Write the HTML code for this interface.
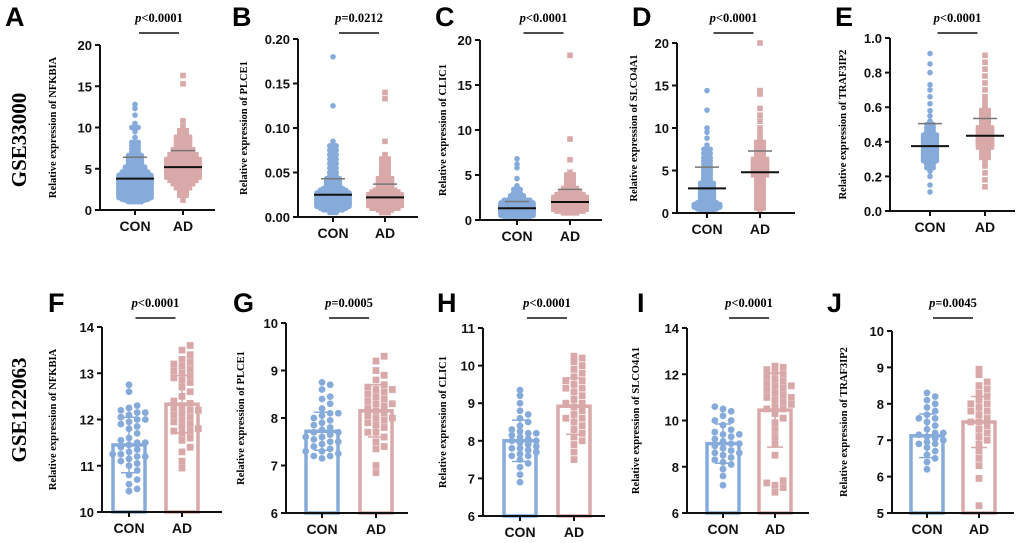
<!DOCTYPE html>
<html><head><meta charset="utf-8"><style>
body{margin:0;background:#fff}
svg{display:block;font-family:"Liberation Sans",Arial,sans-serif}
.tk{font-size:13px;font-weight:bold;fill:#111}
.gl{font-size:14px;font-weight:bold;fill:#111}
.pv{font-family:"Liberation Serif",serif;font-size:12.5px;font-weight:bold}
.yt{font-family:"Liberation Serif",serif;font-size:10.5px;font-weight:bold}
.lt{font-size:27px;font-weight:bold}
.gse{font-family:"Liberation Serif",serif;font-size:21px;font-weight:bold}
</style></head><body>
<svg id="fig" width="1020" height="543" viewBox="0 0 1020 543" xmlns="http://www.w3.org/2000/svg">
<text class="gse" transform="translate(26,140) rotate(-90)" text-anchor="middle">GSE33000</text>
<text class="gse" transform="translate(26,410) rotate(-90)" text-anchor="middle">GSE122063</text>
</svg>
<script>
const groups = ["CON","AD"];
const aCon=[1,1.2,1.3,1.5,1.6,1.8,1.9,2,2.1,2.2,2.3,2.4,2.5,2.6,2.7,2.8,2.9,3,3.1,3.2,3.3,3.4,3.5,3.6,3.7,3.8,3.9,4,4.2,4.4,4.6,4.8,5,5.2,5.5,5.8,6,6.3,6.6,7,7.4,7.8,8.2,8.8,9.5,10,10.5,11.5,12.3,12.8];
const aAd=[1.2,1.8,2.3,2.7,3,3.2,3.4,3.6,3.8,4,4.1,4.2,4.4,4.5,4.6,4.8,4.9,5,5.1,5.2,5.3,5.4,5.5,5.6,5.7,5.8,6,6.1,6.3,6.5,6.7,6.9,7.1,7.3,7.6,7.9,8.2,8.5,8.8,9.2,9.6,10.1,10.8,15.3,16.3];
const bCon=[0.005,0.008,0.01,0.011,0.012,0.013,0.014,0.015,0.016,0.017,0.018,0.019,0.02,0.021,0.022,0.023,0.024,0.025,0.026,0.027,0.028,0.03,0.032,0.034,0.036,0.038,0.04,0.043,0.046,0.05,0.055,0.06,0.065,0.07,0.075,0.08,0.085,0.125,0.18];
const bAd=[0.005,0.008,0.01,0.012,0.013,0.014,0.015,0.016,0.017,0.018,0.019,0.02,0.021,0.022,0.023,0.024,0.025,0.026,0.028,0.03,0.032,0.034,0.036,0.038,0.04,0.043,0.046,0.05,0.055,0.06,0.065,0.07,0.085,0.133,0.14];
const cCon=[0.4,0.5,0.6,0.7,0.8,0.85,0.9,0.95,1,1,1.05,1.1,1.1,1.15,1.2,1.25,1.3,1.35,1.4,1.5,1.6,1.7,1.8,1.9,2,2.2,2.4,2.7,3,3.4,3.8,4.6,5.8,6.2,6.8];
const cAd=[0.8,1,1.1,1.2,1.3,1.4,1.5,1.6,1.7,1.8,1.9,2,2,2.1,2.2,2.3,2.4,2.5,2.6,2.8,3,3.2,3.5,3.8,4.2,4.6,5,5.3,6.7,9,18.3];
const dCon=[0.3,0.5,0.6,0.7,0.8,1,1.2,1.4,1.6,1.8,2,2.2,2.4,2.6,2.8,3,3.2,3.5,3.8,4.1,4.4,4.7,5,5.3,5.7,6.1,6.5,7,7.5,8,8.8,9.5,10,12.1,14.4];
const dAd=[0.3,0.6,1,1.4,1.8,2.2,2.6,3,3.3,3.6,3.9,4.2,4.5,4.8,5,5.2,5.4,5.6,5.8,6,6.3,6.6,7,7.4,7.8,8.3,8.8,9.4,10,10.8,11.5,12.3,14,14.4,20];
const eCon=[0.11,0.15,0.2,0.23,0.25,0.27,0.29,0.3,0.31,0.32,0.33,0.34,0.35,0.36,0.37,0.38,0.39,0.4,0.41,0.42,0.43,0.44,0.46,0.48,0.5,0.52,0.55,0.58,0.62,0.66,0.7,0.73,0.8,0.85,0.91];
const eAd=[0.14,0.18,0.22,0.26,0.29,0.31,0.33,0.35,0.37,0.38,0.39,0.4,0.41,0.42,0.43,0.44,0.45,0.46,0.47,0.48,0.5,0.52,0.54,0.56,0.58,0.6,0.63,0.66,0.7,0.74,0.78,0.82,0.86,0.9];
const fCon=[10.45,10.5,10.6,10.7,10.8,10.9,11,11.05,11.1,11.15,11.2,11.2,11.25,11.3,11.35,11.4,11.45,11.5,11.55,11.6,11.7,11.8,11.85,11.9,11.95,12,12.05,12.1,12.15,12.2,12.25,12.3,12.6,12.75,11.25,11.5,12.15,12.0];
const fAd=[10.95,11.1,11.3,11.4,11.55,11.6,11.7,11.75,11.8,11.85,11.9,11.95,12,12.05,12.1,12.15,12.2,12.25,12.3,12.35,12.4,12.5,12.6,12.7,12.8,12.85,12.9,12.95,13,13.05,13.1,13.15,13.2,13.25,13.3,13.4,13.5,13.6,11.75,12.2];
const gCon=[7.15,7.2,7.25,7.3,7.35,7.4,7.45,7.5,7.55,7.6,7.6,7.65,7.7,7.75,7.8,7.85,7.9,7.95,8,8.05,8.1,8.2,8.3,8.4,8.45,8.6,8.7,8.75,7.5,7.7,7.2,8.1,7.3];
const gAd=[6.85,7.0,7.35,7.4,7.5,7.6,7.7,7.8,7.85,7.9,7.95,8,8.05,8.1,8.15,8.2,8.25,8.3,8.35,8.4,8.45,8.5,8.55,8.6,8.65,8.7,8.8,8.9,9,9.2,9.3,8.0,8.3,8.6,7.7];
const hCon=[6.9,7.1,7.3,7.4,7.5,7.6,7.65,7.7,7.75,7.8,7.85,7.9,7.95,8,8.05,8.1,8.15,8.2,8.25,8.3,8.4,8.5,8.6,8.7,8.8,9,9.2,9.35,7.8,8.0,8.2,7.6];
const hAd=[7.5,7.7,7.9,8,8.1,8.2,8.3,8.4,8.5,8.6,8.7,8.8,8.9,9,9.1,9.2,9.3,9.4,9.5,9.6,9.7,9.8,9.9,10,10.1,10.2,10.25,8.6,9.0,9.4,9.6];
const iCon=[7.2,7.6,7.9,8.1,8.2,8.3,8.4,8.5,8.6,8.7,8.8,8.9,9,9.1,9.2,9.3,9.4,9.5,9.6,9.8,10,10.2,10.4,10.5,10.6,8.6,9.0,9.4,10.0];
const iAd=[6.9,7.1,7.2,7.3,7.4,8.5,9,9.3,9.6,9.9,10.1,10.3,10.5,10.6,10.7,10.8,10.9,11,11.1,11.2,11.3,11.4,11.5,11.6,11.7,11.8,11.9,12,12.1,12.2,12.3,12.35,10.5,11,11.5];
const jCon=[6.2,6.4,6.5,6.6,6.7,6.8,6.9,6.95,7,7.05,7.1,7.15,7.2,7.3,7.4,7.5,7.6,7.7,7.8,7.9,8,8.1,8.2,8.3,6.9,7.2,7.6];
const jAd=[5.2,5.95,6.3,6.5,6.7,6.9,7,7.1,7.2,7.3,7.4,7.5,7.6,7.7,7.8,7.9,8,8.1,8.2,8.3,8.4,8.5,8.6,8.8,8.95,7.5,7.8,8.0];
const means=[[3.8,5.2],[0.025,0.022],[1.3,2.0],[2.9,4.8],[0.375,0.435],[11.45,12.33],[7.72,8.15],[8.0,8.92],[9.0,10.45],[7.12,7.5]];
const sds=[[2.6,2.0],[0.018,0.015],[0.75,1.4],[2.5,2.5],[0.13,0.1],[0.6,0.62],[0.4,0.55],[0.55,0.75],[0.85,1.6],[0.6,0.7]];
const pTexts=["<0.0001","=0.0212","<0.0001","<0.0001","<0.0001","<0.0001","=0.0005","<0.0001","<0.0001","=0.0045"];
const genes=["NFKBIA","PLCE1","CLIC1","SLCO4A1","TRAF3IP2","NFKBIA","PLCE1","CLIC1","SLCO4A1","TRAF3IP2"];
const letters=["A","B","C","D","E","F","G","H","I","J"];
const series=[[aCon,aAd],[bCon,bAd],[cCon,cAd],[dCon,dAd],[eCon,eAd],[fCon,fAd],[gCon,gAd],[hCon,hAd],[iCon,iAd],[jCon,jAd]];
const yMin=[0,0,0,0,0,10,6,6,6,5];
const yMax=[20,0.2,20,20,1,14,10,11,14,10];
const yStep=[5,0.05,5,5,0.2,1,1,1,2,1];
const yDec=[0,2,0,0,1,0,0,0,0,0];

const L=[
 {ax:100,top:45,bot:210,c:[35,83],w:115,lx:5,yt:52,ty:"t"},
 {ax:298,top:39,bot:217,c:[35,87],w:120,lx:232,yt:243,ty:"t"},
 {ax:480,top:40,bot:220,c:[37,90],w:122,lx:435,yt:442,ty:"t"},
 {ax:677,top:43,bot:213,c:[30,83],w:118,lx:632,yt:633,ty:"t"},
 {ax:890,top:38,bot:211,c:[40,95],w:125,lx:835,yt:842,ty:"t"},
 {ax:102,top:327,bot:512,c:[27,80],w:120,lx:48,yt:52,ty:"b"},
 {ax:286,top:323,bot:513,c:[36,90],w:122,lx:233,yt:240,ty:"b"},
 {ax:483,top:328,bot:516,c:[37,91],w:122,lx:437,yt:442,ty:"b"},
 {ax:687,top:328,bot:513,c:[36,88],w:122,lx:637,yt:635,ty:"b"},
 {ax:892,top:331,bot:513,c:[35,87],w:122,lx:827,yt:843,ty:"b"}
];
const COL=["#86abdb","#d9a8a8"];
const svg=document.getElementById('fig');
const NS="http://www.w3.org/2000/svg";
function mk(tag,attrs,parent,txt){const e=document.createElementNS(NS,tag);for(const k in attrs)e.setAttribute(k,attrs[k]);if(txt!==undefined)e.textContent=txt;(parent||svg).appendChild(e);return e;}

function swarm(vals,cx,ys,r,spread){
 const sorted=[...vals].sort((a,b)=>a-b);const placed=[];const out=[];
 for(const v of sorted){const y=ys(v);let k=0,x=cx;
  while(true){const off=Math.ceil(k/2)*(r*spread)*(k%2?1:-1);x=cx+off;
   if(!placed.some(p=>Math.hypot(p[0]-x,p[1]-y)<r*1.6))break;k++;if(k>30)break;}
  placed.push([x,y]);out.push([x,y]);}
 return out;
}
// dense blob: each value becomes a row of dots whose width follows local density
function blob(vals,cx,ys){
 const py=vals.map(ys);const out=[];
 py.forEach(y=>{
  const n=py.filter(o=>Math.abs(o-y)<=5).length;
  const hw=n<=1?0:Math.min(19,(n-1)*2.2);
  for(let k=-Math.floor(hw/3.2);k<=Math.floor(hw/3.2);k++)out.push([cx+k*3.2,y]);
 });
 return out;
}

L.forEach((p,i)=>{
 const g=mk('g',{});
 
 
 const ys=v=>p.bot-(v-yMin[i])/(yMax[i]-yMin[i])*(p.bot-p.top);
 const base=p.ty==="t"?26:312;
 const lt=mk('text',{class:'lt',x:p.lx,y:base},g,letters[i]);
 
 
 const yt=mk('text',{class:'yt',transform:`translate(${p.yt+4},${(p.top+p.bot)/2}) rotate(-90)`,'text-anchor':'middle'},g,'Relative expression of '+genes[i]);
 
 
 const xs=[p.ax+p.c[0],p.ax+p.c[1]];
 if(p.ty==="b"){
  for(let s=0;s<2;s++){
   const yb=ys(means[i][s]);
   const bar=mk('rect',{x:xs[s]-16,y:yb,width:32,height:p.bot-yb,fill:'#fff',stroke:COL[s],'stroke-width':3.5},g);
   
   
  }
 }
 for(let s=0;s<2;s++){
  const r=p.ty==="t"?2.8:3.4;
  const pts=p.ty==="t"?blob(series[i][s],xs[s],ys):swarm(series[i][s],xs[s],ys,r,2.4);
  pts.forEach(q=>{
   let m;
   if(s===0)m=mk('circle',{cx:q[0],cy:q[1],r:r,fill:COL[0]},g);
   else m=mk('rect',{x:q[0]-r,y:q[1]-r,width:2*r,height:2*r,fill:COL[1]},g);
   
   
  });
 }
 for(let s=0;s<2;s++){
  const ym=ys(means[i][s]),yh=ys(means[i][s]+sds[i][s]),yl=ys(means[i][s]-sds[i][s]);
  if(p.ty==="t"){
   const ml=mk('line',{x1:xs[s]-19,x2:xs[s]+19,y1:ym,y2:ym,stroke:'#111','stroke-width':2},g);
   
   
   const sl=mk('line',{x1:xs[s]-12,x2:xs[s]+12,y1:yh,y2:yh,stroke:'#777','stroke-width':1.5},g);
   
   
  } else {
   const eb=mk('path',{d:`M${xs[s]},${yh}V${yl}M${xs[s]-8},${yh}H${xs[s]+8}M${xs[s]-8},${yl}H${xs[s]+8}`,stroke:COL[s],'stroke-width':1.5,fill:'none'},g);
   
   
  }
 }
 const ax=mk('path',{d:`M${p.ax},${p.top}V${p.bot}H${p.ax+p.w}`,stroke:'#111','stroke-width':2,fill:'none'},g);
 
 
 for(let v=yMin[i];v<=yMax[i]+1e-9;v+=yStep[i]){
  const y=ys(v);
  const t=mk('line',{x1:p.ax-5,x2:p.ax,y1:y,y2:y,stroke:'#111','stroke-width':2},g);
  
  
  const tl=mk('text',{class:'tk',x:p.ax-8,y:y+5,'text-anchor':'end'},g,v.toFixed(yDec[i]));
  
  
 }
 for(let s=0;s<2;s++){
  const t=mk('line',{x1:xs[s],x2:xs[s],y1:p.bot,y2:p.bot+5,stroke:'#111','stroke-width':2},g);
  
  
  const gl=mk('text',{class:'gl',x:xs[s],y:p.bot+21,'text-anchor':'middle'},g,groups[s]);
  
  
 }
 const mid=(xs[0]+xs[1])/2;
 const by=p.ty==="t"?33:318;
 const br=mk('line',{x1:mid-20,x2:mid+20,y1:by,y2:by,stroke:'#111','stroke-width':1.5},g);
 
 
 const pt=mk('text',{class:'pv',x:mid,y:by-11,'text-anchor':'middle'},g);
 
 
 mk('tspan',{'font-style':'italic'},pt,'p');
 mk('tspan',{},pt,pTexts[i]);
});
</script>
</body></html>
